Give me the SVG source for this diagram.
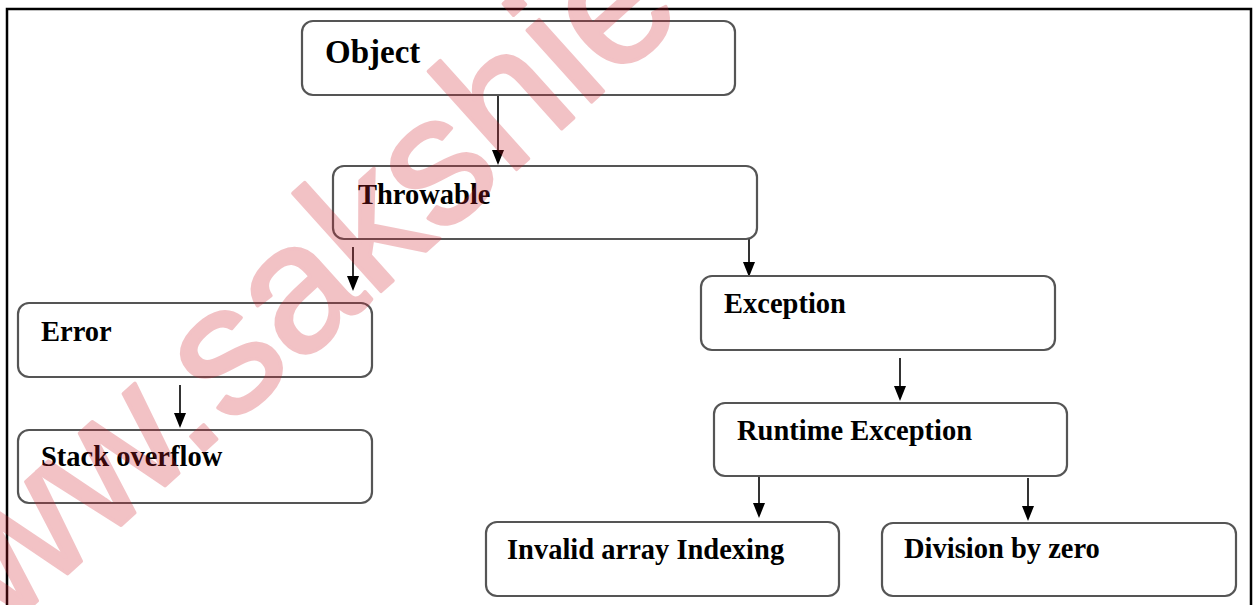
<svg xmlns="http://www.w3.org/2000/svg" width="1253" height="605" viewBox="0 0 1253 605">
<style>
.box{fill:#fff;stroke:#555;stroke-width:2.2}
.lbl{font-family:"Liberation Serif","Times New Roman",serif;font-weight:bold;font-size:28.5px;fill:#000}
.big{font-size:33px}
.conn{stroke:#000;stroke-width:1.6;fill:none}
.wm{font-family:"Liberation Sans",Arial,sans-serif;font-size:182px;fill:#d0202e;stroke:#d0202e;stroke-width:3.5;stroke-linejoin:round}
</style>
<rect width="1253" height="605" fill="#fff"/>
<g id="frame" fill="none" stroke="#000" stroke-width="2.5">
<path d="M7,605 L7,9 L1251,9 L1251,605"/>
</g>
<g id="connectors">
<line class="conn" x1="498" y1="95" x2="498" y2="150"/><path d="M492,150 L504,150 L498,165 Z"/>
<line class="conn" x1="353" y1="247" x2="353" y2="276"/><path d="M347,276 L359,276 L353,291 Z"/>
<line class="conn" x1="749" y1="233" x2="749" y2="262"/><path d="M743,262 L755,262 L749,277 Z"/>
<line class="conn" x1="180" y1="385" x2="180" y2="413"/><path d="M174,413 L186,413 L180,428 Z"/>
<line class="conn" x1="900" y1="358" x2="900" y2="386"/><path d="M894,386 L906,386 L900,401 Z"/>
<line class="conn" x1="759" y1="476" x2="759" y2="503"/><path d="M753,503 L765,503 L759,518 Z"/>
<line class="conn" x1="1028" y1="478" x2="1028" y2="506"/><path d="M1022,506 L1034,506 L1028,521 Z"/>
</g>
<g id="object"><rect class="box" x="302" y="21" width="433" height="74" rx="11"/><text class="lbl big" x="325" y="63">Object</text></g>
<g id="throwable"><rect class="box" x="333" y="166" width="424" height="73" rx="11"/><text class="lbl" x="358" y="204">Throwable</text></g>
<g id="error"><rect class="box" x="18" y="303" width="354" height="74" rx="11"/><text class="lbl" x="41" y="341">Error</text></g>
<g id="stack-overflow"><rect class="box" x="18" y="430" width="354" height="73" rx="11"/><text class="lbl" x="41" y="466">Stack overflow</text></g>
<g id="exception"><rect class="box" x="701" y="276" width="354" height="74" rx="11"/><text class="lbl" x="724" y="313">Exception</text></g>
<g id="runtime-exception"><rect class="box" x="714" y="403" width="353" height="73" rx="11"/><text class="lbl" x="737" y="440">Runtime Exception</text></g>
<g id="invalid-array-indexing"><rect class="box" x="486" y="522" width="353" height="74" rx="11"/><text class="lbl" x="507" y="559">Invalid array Indexing</text></g>
<g id="division-by-zero"><rect class="box" x="882" y="523" width="354" height="73" rx="11"/><text class="lbl" x="904" y="558">Division by zero</text></g>
<g id="watermark" opacity="0.27"><text class="wm" transform="translate(-94,719) rotate(-42)">www.sakshie</text></g>
</svg>
